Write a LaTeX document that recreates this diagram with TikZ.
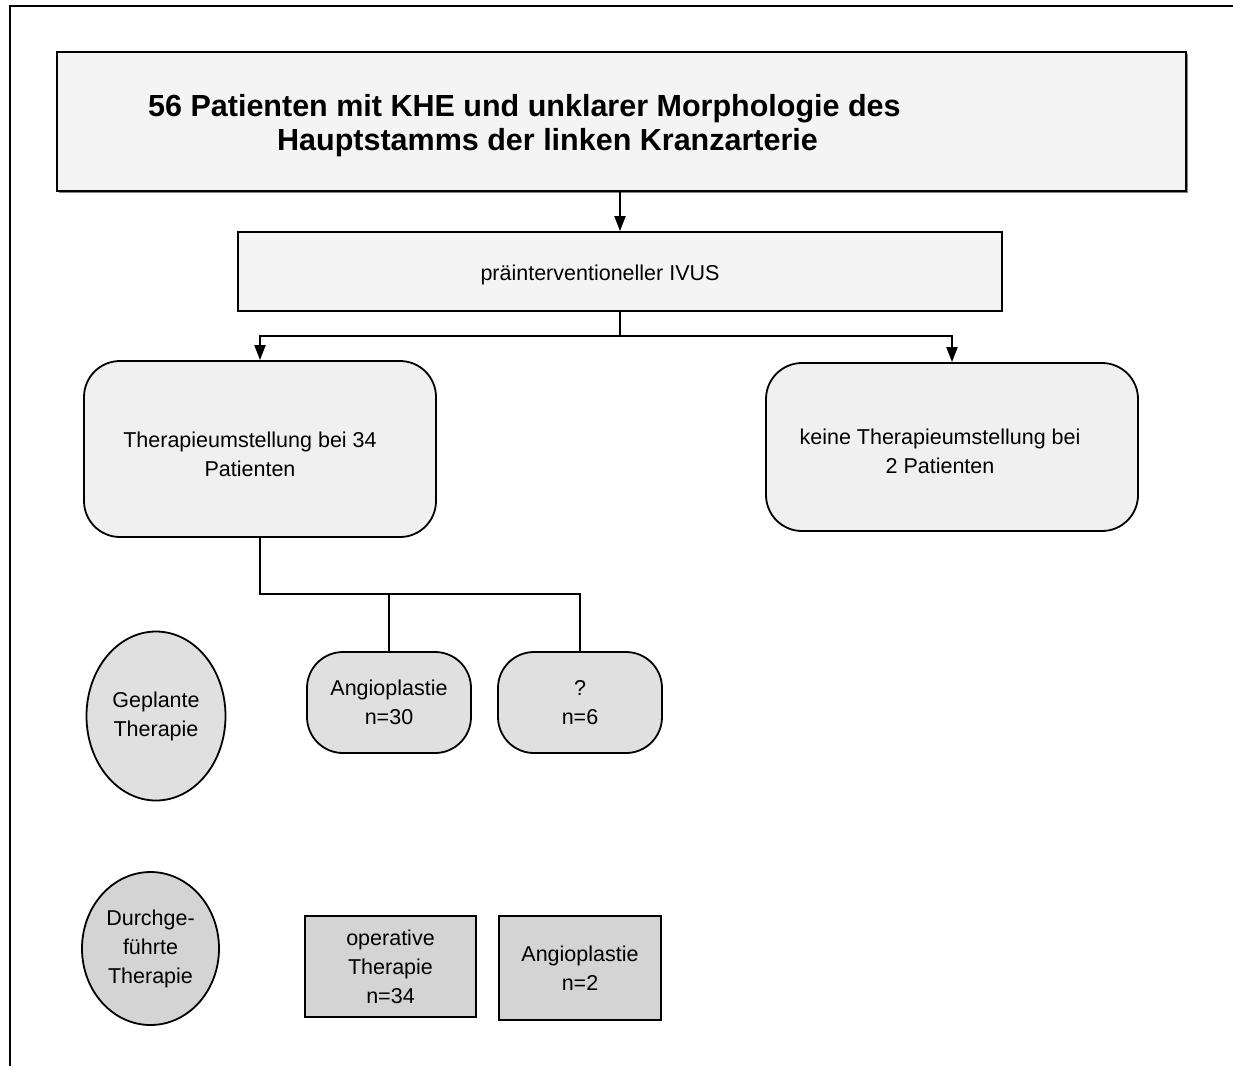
\documentclass[tikz,border=0pt]{standalone}
\usepackage{fontspec}
\setmainfont{Liberation Sans}
\usepackage{tikz}
\usetikzlibrary{calc,arrows.meta,shapes.geometric,shadows}
\definecolor{hell}{HTML}{F4F4F4}
\definecolor{blass}{HTML}{F0F0F0}
\definecolor{grau}{HTML}{E0E0E0}
\definecolor{dunkel}{HTML}{D4D4D4}

\begin{document}
\begin{tikzpicture}[x=1pt,y=-1pt,
  box/.style={draw,line width=1.8pt,inner sep=0pt,align=center,font=\fontsize{21.5}{29}\selectfont},
  rundbox/.style={box,rounded corners=36pt},
  oval/.style={box,ellipse},
  txt/.style={align=center,inner sep=0pt,font=\fontsize{21.5}{29}\selectfont},
  linie/.style={line width=2pt},
  pfeil/.style={linie,-{Triangle[length=15pt,width=11pt]}},
  rahmen/.style={line width=2.5pt}]
\useasboundingbox (0,0) rectangle (1233,1066);
\draw[rahmen] (1233,6) -- (10,6) -- (10,1066);
\node[box,fill=hell,minimum width=1129,minimum height=139,
  drop shadow={shadow xshift=2pt,shadow yshift=-2pt,opacity=1,fill=gray}] (haupt) at (621.5,121.5) {};
\node[txt,align=left,anchor=west,font=\bfseries\fontsize{30.5}{34}\selectfont] (hauptText) at (148,126)
  {56 Patienten mit KHE und unklarer Morphologie des\\\hspace*{129pt}Hauptstamms der linken Kranzarterie};
\node[box,fill=hell,minimum width=764,minimum height=79] (ivus) at (620,271.5) {};
\node[txt] (ivusText) at (600,275) {präinterventioneller IVUS};
\node[rundbox,fill=blass,minimum width=352,minimum height=176] (links) at (260,449) {};
\node[txt] (linksText) at (250,454) {Therapieumstellung bei 34\\Patienten};
\node[rundbox,fill=blass,minimum width=372,minimum height=168] (rechts) at (952,447) {};
\node[txt] (rechtsText) at (940,451) {keine Therapieumstellung bei\\2 Patienten};
\node[oval,fill=grau,minimum width=139,minimum height=169] (geplant) at (156,716) {Geplante\\Therapie};
\node[rundbox,fill=grau,minimum width=164,minimum height=101] (angioA) at (389,702.5) {Angioplastie\\n=30};
\node[rundbox,fill=grau,minimum width=164,minimum height=101] (frage) at (580,702.5) {?\\n=6};
\node[oval,fill=dunkel,minimum width=137,minimum height=153] (durch) at (150.5,948.5) {Durchge-\\führte\\Therapie};
\node[box,fill=dunkel,minimum width=171,minimum height=101] (operativ) at (390.5,966.5) {operative\\Therapie\\n=34};
\node[box,fill=dunkel,minimum width=162,minimum height=104] (angioB) at (580,968) {Angioplastie\\n=2};
\coordinate (gabelA) at ($(ivus.south)+(0,24)$);
\draw[pfeil] (ivus.north |- haupt.south) -- (ivus.north);
\draw[linie] (ivus.south) -- (gabelA);
\draw[pfeil] (gabelA) -| (links.north);
\draw[pfeil] (gabelA) -| (rechts.north);
\coordinate (gabelB) at ($(links.south)+(0,56)$);
\draw[linie] (links.south) -- (gabelB) -| (frage.north);
\draw[linie] (angioA.north |- gabelB) -- (angioA.north);
\end{tikzpicture}
\end{document}
